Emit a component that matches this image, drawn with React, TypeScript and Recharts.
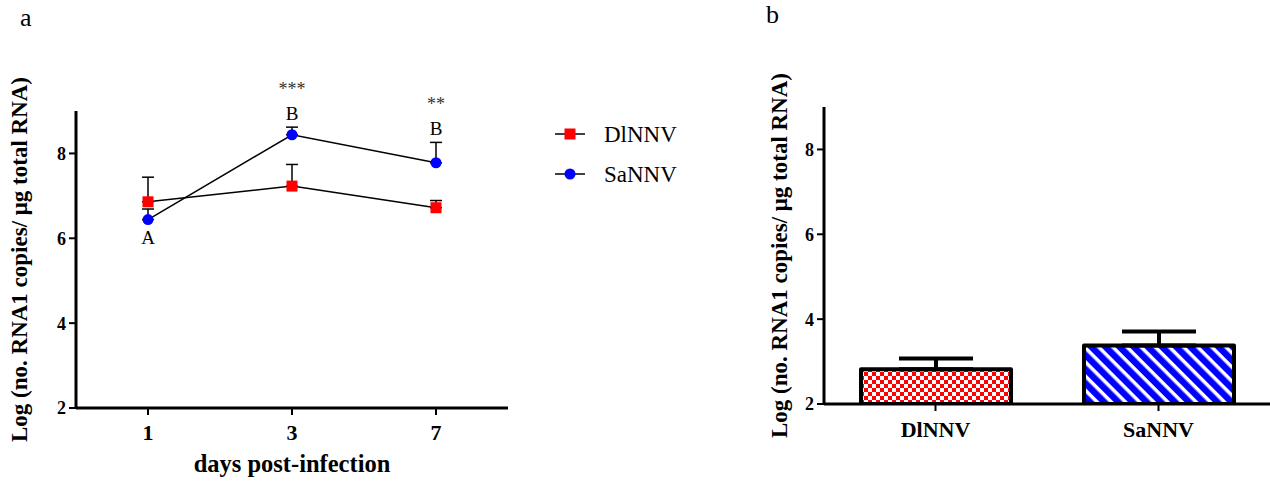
import React from 'react';
import {
  ComposedChart,
  BarChart,
  Bar,
  Line,
  XAxis,
  YAxis,
  ErrorBar,
  LabelList,
  Cell,
  Label,
} from 'recharts';

// ---------- data: panel a ----------
const days = ['1', '3', '7'];
const dlMean = [6.86, 7.23, 6.72];
const dlErr = [0.58, 0.51, 0.17];
const saMean = [6.44, 8.44, 7.78];
const saErr = [0.25, 0.18, 0.48];
const saLetterBelow = ['A', '', ''];
const saLetterAbove = ['', 'B', 'B'];
const saStars = ['', '***', '**'];
const seriesNames = ['DlNNV', 'SaNNV'];
const yTicks = [2, 4, 6, 8];

// ---------- data: panel b ----------
const groups = ['DlNNV', 'SaNNV'];
const groupMean = [2.82, 3.38];
const groupErr = [0.25, 0.33];

const lineData = days.map((d, i) => ({
  day: d,
  dl: dlMean[i],
  dlE: [0, dlErr[i]],
  sa: saMean[i],
  saE: [0, saErr[i]],
  saTop: saMean[i] + saErr[i],
}));

const barData = groups.map((g, i) => ({
  name: g,
  value: groupMean[i],
  err: [0, groupErr[i]],
}));

const SERIF = '"Liberation Serif", "Times New Roman", serif';
const RED = '#ff0000';
const BLUE = '#0000ff';

const tickStyleY = { fontFamily: SERIF, fontWeight: 'bold', fontSize: 18, fill: '#000' };
const tickStyleX = { fontFamily: SERIF, fontWeight: 'bold', fontSize: 22, fill: '#000' };

const SquareDot = (props: any) => {
  const { cx, cy, index } = props;
  if (cx == null || cy == null) return <g key={`sq-${index}`} />;
  return <rect key={`sq-${index}`} x={cx - 5.5} y={cy - 5.5} width={11} height={11} fill={RED} />;
};

const yTitle = (baseOffset: number) => (props: any) => {
  const vb = props.viewBox || {};
  const bx = (vb.x || 0) + baseOffset;
  const cy = (vb.y || 0) + (vb.height || 0) / 2;
  return (
    <text
      x={bx}
      y={cy}
      transform={`rotate(-90, ${bx}, ${cy})`}
      textAnchor="middle"
      fontFamily={SERIF}
      fontWeight="bold"
      fontSize={23}
      fill="#000"
    >
      Log (no. RNA1 copies/ μg total RNA)
    </text>
  );
};

const belowLabel = (props: any) => {
  const { x, y, index } = props;
  const t = saLetterBelow[index];
  if (!t) return null;
  return (
    <text x={x} y={y + 24} textAnchor="middle" fontFamily={SERIF} fontSize={19} fill="#000">
      {t}
    </text>
  );
};

const aboveLabel = (props: any) => {
  const { x, y, index } = props;
  const letter = saLetterAbove[index];
  const stars = saStars[index];
  return (
    <g>
      {letter ? (
        <text x={x} y={y - 7.5} textAnchor="middle" fontFamily={SERIF} fontSize={19} fill="#000">
          {letter}
        </text>
      ) : null}
      {stars ? (
        <text x={x} y={y - 32} textAnchor="middle" fontFamily={SERIF} fontSize={18} fill="#333">
          {stars}
        </text>
      ) : null}
    </g>
  );
};

const LegendBox = () => (
  <svg
    width={170}
    height={90}
    style={{ position: 'absolute', left: 545, top: 110 }}
  >
    {seriesNames.map((n, i) => {
      const cy = 24 + i * 40;
      return (
        <g key={n}>
          <line x1={10} x2={40} y1={cy} y2={cy} stroke="#000" strokeWidth={1.5} />
          {i === 0 ? (
            <rect x={25 - 5.5} y={cy - 5.5} width={11} height={11} fill={RED} />
          ) : (
            <circle cx={25} cy={cy} r={5.5} fill={BLUE} />
          )}
          <text x={59} y={cy + 8} fontFamily={SERIF} fontSize={23} fill="#000">
            {n}
          </text>
        </g>
      );
    })}
  </svg>
);

export default function App() {
  return (
    <div style={{ position: 'absolute', left: 0, top: 0, width: 1270, height: 482, background: '#fff' }}>
      <div style={{ position: 'absolute', left: 20, top: 1, fontFamily: SERIF, fontSize: 26, lineHeight: '34px' }}>a</div>
      <div style={{ position: 'absolute', left: 766, top: -2, fontFamily: SERIF, fontSize: 26, lineHeight: '34px' }}>b</div>

      <div style={{ position: 'absolute', left: 0, top: 0 }}>
        <ComposedChart
          width={720}
          height={482}
          data={lineData}
          margin={{ top: 111, right: 212, bottom: 0, left: 0 }}
        >
          <XAxis
            dataKey="day"
            scale="band"
            height={74}
            tickSize={7}
            tickMargin={9}
            axisLine={{ stroke: '#000', strokeWidth: 3 }}
            tickLine={{ stroke: '#000', strokeWidth: 2 }}
            tick={tickStyleX}
          >
            <Label
              value="days post-infection"
              position="insideBottom"
              offset={10}
              style={{ fontFamily: SERIF, fontWeight: 'bold', fontSize: 24.5, fill: '#000' }}
            />
          </XAxis>
          <YAxis
            width={76}
            type="number"
            domain={[2, 9]}
            ticks={yTicks}
            allowDataOverflow
            tickSize={7}
            tickMargin={3}
            axisLine={{ stroke: '#000', strokeWidth: 3 }}
            tickLine={{ stroke: '#000', strokeWidth: 2 }}
            tick={tickStyleY}
          >
            <Label content={yTitle(26.5)} />
          </YAxis>
          <Line
            dataKey="dl"
            stroke="#000"
            strokeWidth={1.5}
            dot={SquareDot}
            activeDot={false}
            isAnimationActive={false}
          >
            <ErrorBar dataKey="dlE" width={6} stroke="#000" strokeWidth={1.5} direction="y" />
          </Line>
          <Line
            dataKey="sa"
            stroke="#000"
            strokeWidth={1.5}
            dot={{ r: 5.5, fill: BLUE, stroke: 'none' }}
            activeDot={false}
            isAnimationActive={false}
          >
            <ErrorBar dataKey="saE" width={6} stroke="#000" strokeWidth={1.5} direction="y" />
            <LabelList dataKey="sa" content={belowLabel} />
          </Line>
          <Line
            dataKey="saTop"
            stroke="none"
            dot={false}
            activeDot={false}
            legendType="none"
            isAnimationActive={false}
          >
            <LabelList dataKey="saTop" content={aboveLabel} />
          </Line>
        </ComposedChart>
      </div>
      <LegendBox />

      <div style={{ position: 'absolute', left: 740, top: 0 }}>
        <BarChart
          width={530}
          height={482}
          data={barData}
          margin={{ top: 107, right: 0, bottom: 0, left: 0 }}
        >
          <defs>
            <pattern id="checker" patternUnits="userSpaceOnUse" width={8} height={8}>
              <rect x={0} y={0} width={8} height={8} fill="#fff" />
              <rect x={0} y={0} width={4} height={4} fill={RED} />
              <rect x={4} y={4} width={4} height={4} fill={RED} />
            </pattern>
            <pattern
              id="stripes"
              patternUnits="userSpaceOnUse"
              width={10}
              height={10}
              patternTransform="rotate(-45)"
            >
              <rect x={0} y={0} width={10} height={10} fill="#fff" />
              <rect x={0} y={0} width={6.5} height={10} fill={BLUE} />
            </pattern>
          </defs>
          <XAxis
            dataKey="name"
            height={78}
            tickSize={7}
            tickMargin={10}
            axisLine={{ stroke: '#000', strokeWidth: 3 }}
            tickLine={{ stroke: '#000', strokeWidth: 2 }}
            tick={tickStyleX}
          />
          <YAxis
            width={84}
            type="number"
            domain={[2, 9]}
            ticks={yTicks}
            allowDataOverflow
            tickSize={7}
            tickMargin={3}
            axisLine={{ stroke: '#000', strokeWidth: 3 }}
            tickLine={{ stroke: '#000', strokeWidth: 2 }}
            tick={tickStyleY}
          >
            <Label content={yTitle(47)} />
          </YAxis>
          <Bar
            dataKey="value"
            barSize={150}
            stroke="#000"
            strokeWidth={4}
            strokeLinejoin="round"
            isAnimationActive={false}
          >
            {groups.map((g, i) => (
              <Cell key={g} fill={i === 0 ? 'url(#checker)' : 'url(#stripes)'} />
            ))}
            <ErrorBar dataKey="err" width={37} stroke="#000" strokeWidth={4} direction="y" />
          </Bar>
        </BarChart>
      </div>
    </div>
  );
}
